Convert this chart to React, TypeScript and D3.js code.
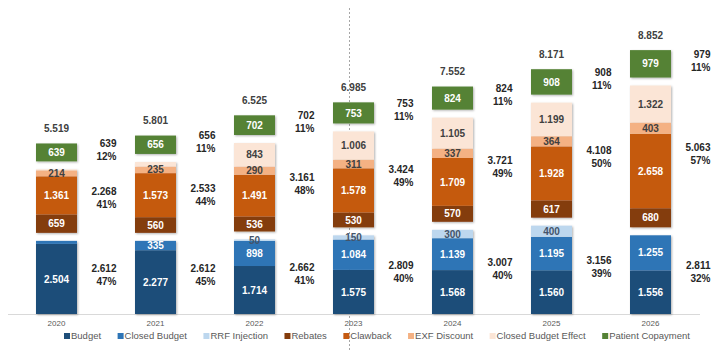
import React from "react";
import * as d3 from "d3";

const years = ["2020", "2021", "2022", "2023", "2024", "2025", "2026"];
const budget = [2504, 2277, 1714, 1575, 1568, 1560, 1556];
const closedBudget = [108, 335, 898, 1084, 1139, 1195, 1255];
const rrfInjection = [0, 0, 50, 150, 300, 400, 0];
const rebates = [659, 560, 536, 530, 570, 617, 680];
const clawback = [1361, 1573, 1491, 1578, 1709, 1928, 2658];
const exfDiscount = [214, 235, 290, 311, 337, 364, 403];
const closedBudgetEffect = [34, 165, 843, 1006, 1105, 1199, 1322];
const patientCopayment = [639, 656, 702, 753, 824, 908, 979];

const totalLabels = ["5.519", "5.801", "6.525", "6.985", "7.552", "8.171", "8.852"];
const budgetGroupLabels = ["2.612", "2.612", "2.662", "2.809", "3.007", "3.156", "2.811"];
const budgetGroupPct = ["47%", "45%", "41%", "40%", "40%", "39%", "32%"];
const offsetGroupLabels = ["2.268", "2.533", "3.161", "3.424", "3.721", "4.108", "5.063"];
const offsetGroupPct = ["41%", "44%", "48%", "49%", "49%", "50%", "57%"];
const copayLabels = ["639", "656", "702", "753", "824", "908", "979"];
const copayPct = ["12%", "11%", "11%", "11%", "11%", "11%", "11%"];

type Series = { name: string; values: number[]; color: string; text: string; always?: boolean };

const groups: Series[][] = [
  [
    { name: "Budget", values: budget, color: "#1F4E79", text: "#ffffff" },
    { name: "Closed Budget", values: closedBudget, color: "#2E75B6", text: "#ffffff" },
    { name: "RRF Injection", values: rrfInjection, color: "#BDD7EE", text: "#44546A", always: true },
  ],
  [
    { name: "Rebates", values: rebates, color: "#843C0C", text: "#ffffff" },
    { name: "Clawback", values: clawback, color: "#C55A11", text: "#ffffff" },
    { name: "EXF Discount", values: exfDiscount, color: "#F4B183", text: "#404040" },
    { name: "Closed Budget Effect", values: closedBudgetEffect, color: "#FBE5D6", text: "#404040" },
  ],
  [{ name: "Patient Copayment", values: patientCopayment, color: "#548235", text: "#ffffff" }],
];

const groupLabels = [
  [budgetGroupLabels, budgetGroupPct],
  [offsetGroupLabels, offsetGroupPct],
  [copayLabels, copayPct],
];

const locale = d3.formatLocale({ decimal: ",", thousands: ".", grouping: [3], currency: ["", "€"] });
const fmt = locale.format(",d");

const W = 717;
const H = 356;
const baseline = 314;
const gap = 8;

export default function App() {
  const x = d3.scaleBand<string>().domain(years).range([7, 7 + 99 * years.length]).padding(0);
  const h = d3.scaleLinear().domain([0, 10000]).range([0, 280]);
  const barW = 41;

  const allSeries = groups.flat();
  const legendFont = "9.5px 'Liberation Sans', Arial, sans-serif";
  let widths: number[] = allSeries.map((s) => s.name.length * 5);
  if (typeof document !== "undefined") {
    const ctx = document.createElement("canvas").getContext("2d");
    if (ctx) {
      ctx.font = legendFont;
      widths = allSeries.map((s) => ctx.measureText(s.name).width);
    }
  }
  const legendPos: number[] = [];
  let lx = 64;
  widths.forEach((w) => {
    legendPos.push(lx);
    lx += 7 + w + 16.5;
  });

  const bars: React.ReactNode[] = [];
  const labels: React.ReactNode[] = [];

  years.forEach((yr, i) => {
    const cx = (x(yr) as number) + x.bandwidth() / 2;
    const bx = cx - barW / 2;
    let bottom = baseline;
    groups.forEach((grp, gi) => {
      const groupBottom = bottom;
      let cur = bottom;
      grp.forEach((s) => {
        const v = s.values[i];
        const hh = h(v);
        if (v > 0) {
          bars.push(
            <rect key={`${yr}-${s.name}`} x={bx} y={cur - hh} width={barW} height={hh} fill={s.color} />
          );
          if (v >= 200 || s.always) {
            labels.push(
              <text
                key={`l-${yr}-${s.name}`}
                x={cx}
                y={cur - hh / 2}
                dy="0.36em"
                textAnchor="middle"
                fill={s.text}
                fontSize={10}
                fontWeight="bold"
              >
                {fmt(v)}
              </text>
            );
          }
        }
        cur -= hh;
      });
      const groupTop = cur;
      const mid = (groupTop + groupBottom) / 2 - 3;
      const [l1, l2] = groupLabels[gi];
      labels.push(
        <text key={`g-${yr}-${gi}`} textAnchor="end" fill="#262626" fontSize={10} fontWeight="bold">
          <tspan x={cx + 60} y={mid - 6.5} dy="0.36em">{l1[i]}</tspan>
          <tspan x={cx + 60} y={mid + 6.5} dy="0.36em">{l2[i]}</tspan>
        </text>
      );
      bottom = groupTop - gap;
      if (gi === groups.length - 1) {
        labels.push(
          <text
            key={`t-${yr}`}
            x={cx}
            y={groupTop - 15}
            dy="0.36em"
            textAnchor="middle"
            fill="#404040"
            fontSize={10}
            fontWeight="bold"
          >
            {totalLabels[i]}
          </text>
        );
      }
    });
    labels.push(
      <text key={`y-${yr}`} x={cx} y={323} dy="0.35em" textAnchor="middle" fill="#595959" fontSize={8}>
        {yr}
      </text>
    );
  });

  const dashX = (x("2023") as number) + x.bandwidth() / 2 - 4;

  return (
    <div style={{ position: "fixed", left: 0, top: 0, width: W, height: H, background: "#fff" }}>
      <svg width={W} height={H} style={{ display: "block", fontFamily: "'Liberation Sans', Arial, sans-serif" }}>
        <defs>
          <filter id="shadow" x="-20%" y="-20%" width="140%" height="140%">
            <feDropShadow dx="1" dy="1" stdDeviation="1.2" floodColor="#000" floodOpacity="0.3" />
          </filter>
        </defs>
        <rect width={W} height={H} fill="#fff" />
        <line x1={dashX} x2={dashX} y1={8} y2={350} stroke="#A6A6A6" strokeWidth={1} strokeDasharray="2,2" />
        <line x1={8} x2={700} y1={baseline + 0.5} y2={baseline + 0.5} stroke="#D9D9D9" strokeWidth={1} />
        <g filter="url(#shadow)">{bars}</g>
        <g>{labels}</g>
        <g>
          {allSeries.map((s, k) => (
            <g key={`lg-${s.name}`} transform={`translate(${legendPos[k]},336)`}>
              <rect x={0} y={-3} width={6} height={6} fill={s.color} />
              <text x={7} y={0} dy="0.35em" fill="#595959" fontSize={9.5}>
                {s.name}
              </text>
            </g>
          ))}
        </g>
      </svg>
    </div>
  );
}
